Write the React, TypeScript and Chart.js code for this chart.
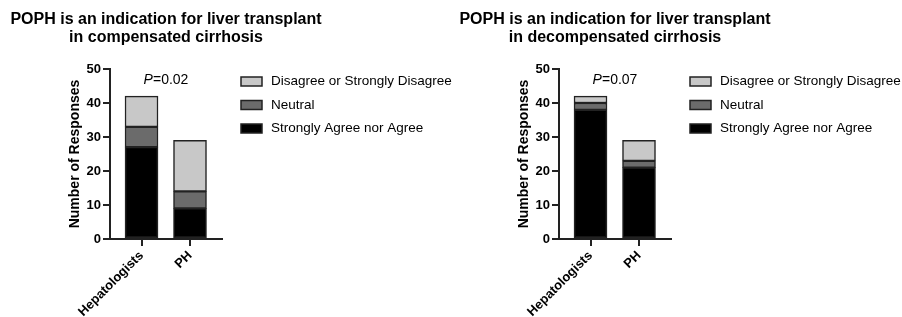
import React, { useEffect, useRef } from "react";
import { Chart, registerables } from "chart.js";

Chart.register(...registerables);

const groups = ["Hepatologists", "PH"];
const seriesLabels = ["Strongly Agree nor Agree", "Neutral", "Disagree or Strongly Disagree"];
const seriesColors = ["#000000", "#6b6b6b", "#c8c8c8"];

const compensatedAgree = [27, 9];
const compensatedNeutral = [6, 5];
const compensatedDisagree = [9, 15];

const decompensatedAgree = [38, 21];
const decompensatedNeutral = [2, 2];
const decompensatedDisagree = [2, 6];

const yTickValues = [0, 10, 20, 30, 40, 50];

const compensatedTitle = ["POPH is an indication for liver transplant", "in compensated cirrhosis"];
const decompensatedTitle = ["POPH is an indication for liver transplant", "in decompensated cirrhosis"];
const compensatedP = "0.02";
const decompensatedP = "0.07";

const yAxisTitle = "Number of Responses";

const FONT = "'Liberation Sans', Arial, Helvetica, sans-serif";

type PanelProps = {
  left: number;
  width: number;
  title: string[];
  agree: number[];
  neutral: number[];
  disagree: number[];
  pValue: string;
};

function Panel({ left, width, title, agree, neutral, disagree, pValue }: PanelProps) {
  const ref = useRef<HTMLCanvasElement>(null);

  useEffect(() => {
    const canvas = ref.current;
    if (!canvas) return;
    const values = [agree, neutral, disagree];

    const overlay = {
      id: "overlay",
      afterDraw(chart: any) {
        const ctx = chart.ctx as CanvasRenderingContext2D;
        const ca = chart.chartArea;
        const cx = (ca.left + ca.right) / 2;
        ctx.save();
        // Title
        ctx.fillStyle = "#000";
        ctx.textAlign = "center";
        ctx.textBaseline = "alphabetic";
        ctx.font = `bold 16px ${FONT}`;
        ctx.fillText(title[0], cx, 23.5);
        ctx.fillText(title[1], cx, 42);

        // P value
        const py = chart.scales.y.getPixelForValue(46.6);
        ctx.textBaseline = "middle";
        ctx.textAlign = "left";
        ctx.font = `italic 14px ${FONT}`;
        const pW = ctx.measureText("P").width;
        ctx.font = `14px ${FONT}`;
        const rest = "=" + pValue;
        const rW = ctx.measureText(rest).width;
        const sx = cx - (pW + rW) / 2;
        ctx.font = `italic 14px ${FONT}`;
        ctx.fillText("P", sx, py);
        ctx.font = `14px ${FONT}`;
        ctx.fillText(rest, sx + pW, py);

        // Legend (reverse order)
        ctx.font = `13.5px ${FONT}`;
        const order = [2, 1, 0];
        order.forEach((di, row) => {
          const ds = chart.data.datasets[di];
          const yc = ca.top + 12.5 + row * 23.5;
          const bx = ca.right + 19;
          ctx.fillStyle = ds.backgroundColor;
          ctx.fillRect(bx, yc - 4.5, 21, 9);
          ctx.strokeStyle = "#222";
          ctx.lineWidth = 1.5;
          ctx.strokeRect(bx, yc - 4.5, 21, 9);
          ctx.fillStyle = "#000";
          ctx.fillText(ds.label, ca.right + 49, yc);
        });
        ctx.restore();
      },
    };

    const chart = new Chart(canvas, {
      type: "bar",
      data: {
        datasets: values.map((vals, i) => ({
          label: seriesLabels[i],
          data: vals.map((v, gi) => ({ x: gi, y: v })),
          backgroundColor: seriesColors[i],
          borderColor: "#222",
          borderWidth: 1.5,
          borderSkipped: false,
          barThickness: 33,
        })),
      },
      options: {
        responsive: false,
        animation: false,
        devicePixelRatio: 1,
        layout: {
          padding: { left: 60, top: 69, right: width - 222, bottom: 0 },
        },
        plugins: {
          legend: { display: false },
          title: { display: false },
          tooltip: { enabled: false },
        },
        scales: {
          x: {
            type: "linear",
            stacked: true,
            offset: false,
            min: -0.65,
            max: 1.66,
            afterBuildTicks: (scale: any) => {
              scale.ticks = groups.map((_, i) => ({ value: i }));
            },
            afterFit: (scale: any) => {
              scale.height = 78;
            },
            ticks: {
              autoSkip: false,
              minRotation: 45,
              maxRotation: 45,
              padding: 2,
              color: "#000",
              font: { family: FONT, size: 13, weight: "bold" },
              callback: (value: any) => groups[value as number] ?? "",
            },
            grid: {
              display: true,
              offset: false,
              drawOnChartArea: false,
              drawTicks: true,
              tickLength: 7,
              color: "#222",
              lineWidth: 2,
            },
            border: { display: true, color: "#222", width: 2 },
          },
          y: {
            type: "linear",
            stacked: true,
            min: 0,
            max: 50,
            afterBuildTicks: (scale: any) => {
              scale.ticks = yTickValues.map((v) => ({ value: v }));
            },
            afterFit: (scale: any) => {
              scale.width = 50;
            },
            ticks: {
              padding: 2,
              color: "#000",
              font: { family: FONT, size: 13, weight: "bold" },
            },
            grid: {
              display: true,
              drawOnChartArea: false,
              drawTicks: true,
              tickLength: 7,
              color: "#222",
              lineWidth: 2,
            },
            border: { display: true, color: "#222", width: 2 },
            title: {
              display: true,
              text: yAxisTitle,
              color: "#000",
              font: { family: FONT, size: 14, weight: "bold" },
              padding: { top: 7, bottom: 0 },
            },
          },
        },
      },
      plugins: [overlay],
    } as any);

    return () => chart.destroy();
  }, [left, width, title, agree, neutral, disagree, pValue]);

  return (
    <canvas
      ref={ref}
      width={width}
      height={317}
      style={{ position: "absolute", left, top: 0, width, height: 317 }}
    />
  );
}

export default function App() {
  return (
    <div
      style={{
        position: "absolute",
        left: 0,
        top: 0,
        width: 902,
        height: 317,
        background: "#fff",
        overflow: "hidden",
      }}
    >
      <Panel
        left={0}
        width={460}
        title={compensatedTitle}
        agree={compensatedAgree}
        neutral={compensatedNeutral}
        disagree={compensatedDisagree}
        pValue={compensatedP}
      />
      <Panel
        left={449}
        width={453}
        title={decompensatedTitle}
        agree={decompensatedAgree}
        neutral={decompensatedNeutral}
        disagree={decompensatedDisagree}
        pValue={decompensatedP}
      />
    </div>
  );
}
